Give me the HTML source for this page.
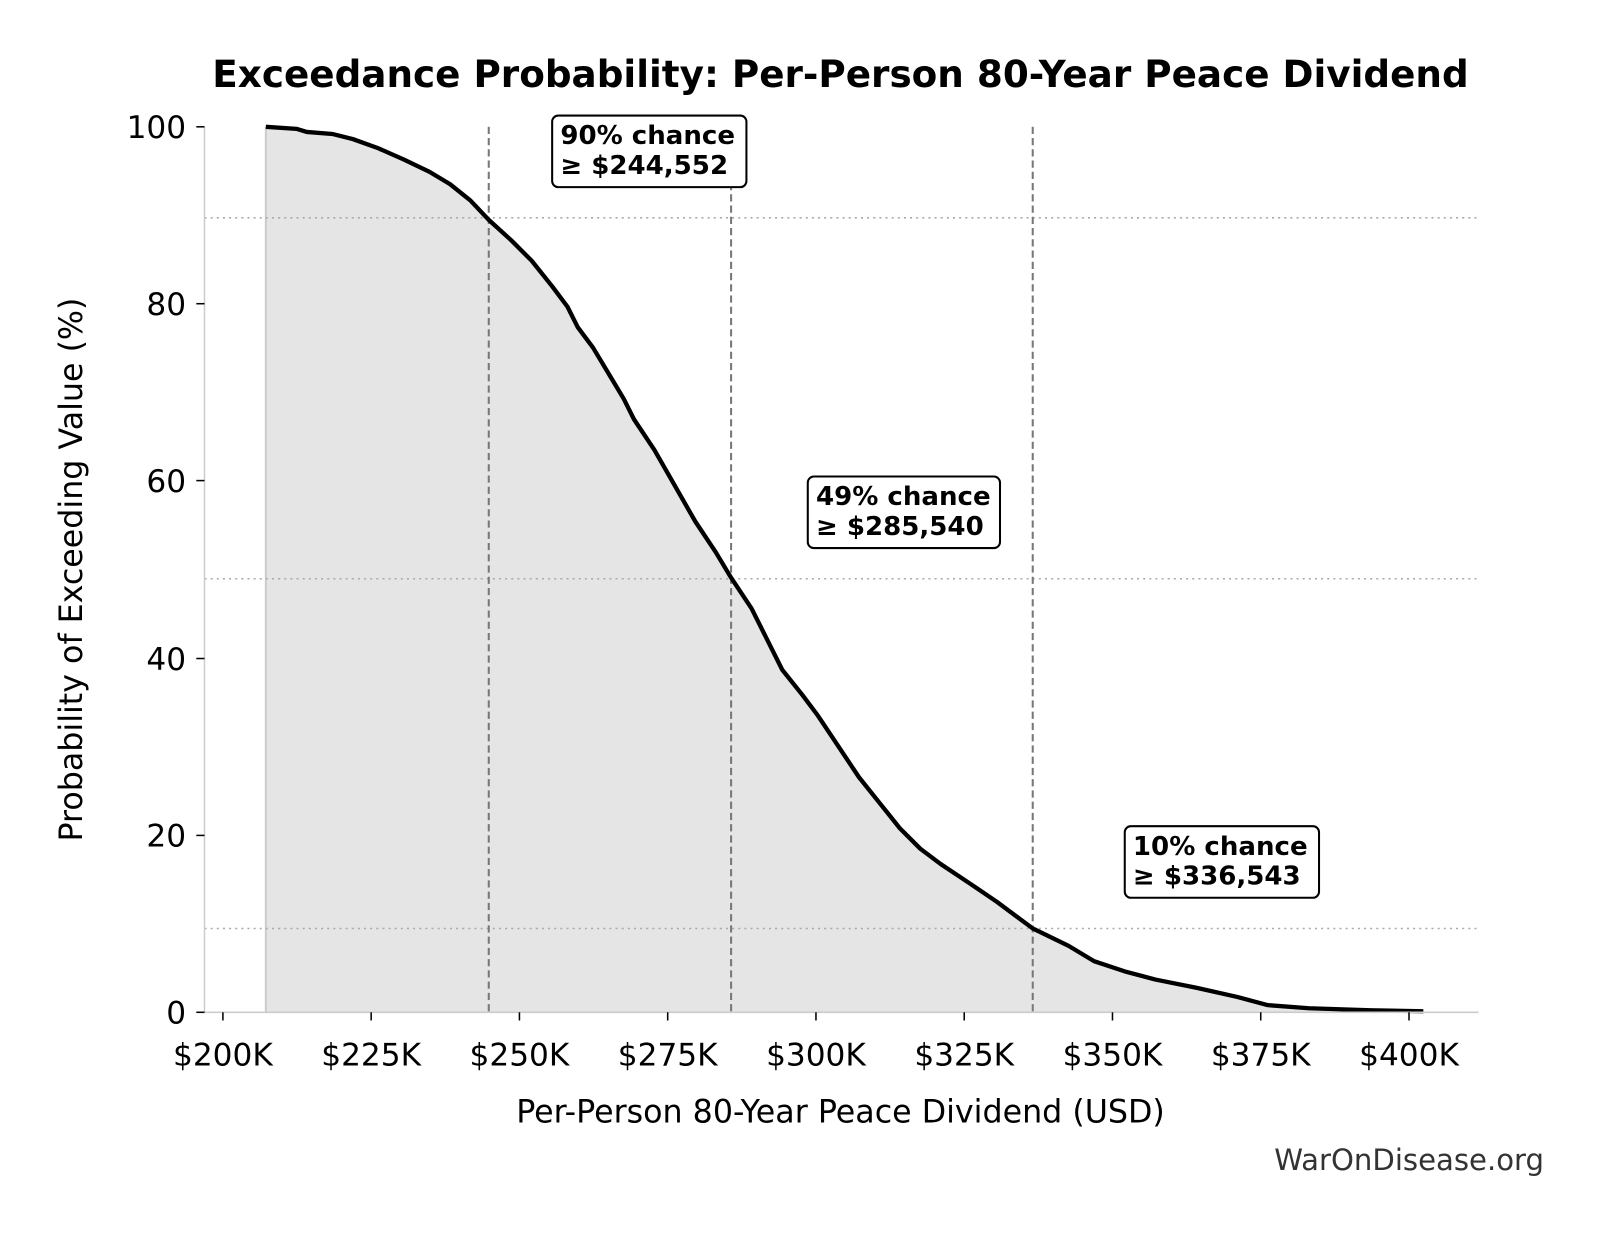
<!DOCTYPE html>
<html><head><meta charset="utf-8"><style>body{margin:0;background:#fff}</style></head><body>
<svg width="1604" height="1234" viewBox="0 0 1568.7 1206.8" xmlns="http://www.w3.org/2000/svg" font-family="'DejaVu Sans','Liberation Sans',sans-serif" style="display:block">
<rect width="1568.7" height="1206.8" fill="#fff"/>
<text x="822" y="85" text-anchor="middle" font-size="36.5" font-weight="bold">Exceedance Probability: Per-Person 80-Year Peace Dividend</text>
<path d="M260,990 L260,124 L290,126 L300,129 L325,131 L345,136 L370,145 L395,156 L420,168 L440,180 L460,196 L478,215 L500,235 L520,255 L540,280 L555,300 L565,320 L580,340 L595,365 L610,390 L620,410 L640,440 L660,475 L680,510 L700,540 L715,565 L735,595 L750,625 L765,655 L785,680 L800,700 L820,730 L840,760 L860,785 L880,810 L900,830 L920,845 L950,865 L975,882 L1010,908 L1045,925 L1070,940 L1100,950 L1130,958 L1170,966 L1210,975 L1240,983 L1280,986 L1340,988 L1392,989 L1392,990 Z" fill="#e5e5e5"/>
<line x1="260" y1="124" x2="260" y2="990" stroke="#ccc" stroke-width="2"/>
<g stroke="#aaa" stroke-width="1.5" stroke-dasharray="2,4">
<line x1="200" y1="213" x2="1446" y2="213"/><line x1="200" y1="566" x2="1446" y2="566"/><line x1="200" y1="908" x2="1446" y2="908"/></g>
<g stroke="#777" stroke-width="2" stroke-dasharray="7,4">
<line x1="478" y1="124" x2="478" y2="990"/><line x1="715" y1="124" x2="715" y2="990"/><line x1="1010" y1="124" x2="1010" y2="990"/></g>
<path d="M260,124 L290,126 L300,129 L325,131 L345,136 L370,145 L395,156 L420,168 L440,180 L460,196 L478,215 L500,235 L520,255 L540,280 L555,300 L565,320 L580,340 L595,365 L610,390 L620,410 L640,440 L660,475 L680,510 L700,540 L715,565 L735,595 L750,625 L765,655 L785,680 L800,700 L820,730 L840,760 L860,785 L880,810 L900,830 L920,845 L950,865 L975,882 L1010,908 L1045,925 L1070,940 L1100,950 L1130,958 L1170,966 L1210,975 L1240,983 L1280,986 L1340,988 L1392,989" fill="none" stroke="#000" stroke-width="4.2" stroke-linejoin="round"/>
<g stroke="#ccc" stroke-width="1.5"><line x1="200" y1="124" x2="200" y2="990"/><line x1="200" y1="990" x2="1446" y2="990"/></g>
<g stroke="#000" stroke-width="1.5">
<line x1="192" y1="124" x2="200" y2="124"/><line x1="192" y1="297" x2="200" y2="297"/><line x1="192" y1="470" x2="200" y2="470"/><line x1="192" y1="644" x2="200" y2="644"/><line x1="192" y1="817" x2="200" y2="817"/><line x1="192" y1="990" x2="200" y2="990"/>
<line x1="218" y1="990" x2="218" y2="998"/><line x1="363" y1="990" x2="363" y2="998"/><line x1="508" y1="990" x2="508" y2="998"/><line x1="653" y1="990" x2="653" y2="998"/><line x1="798" y1="990" x2="798" y2="998"/><line x1="943" y1="990" x2="943" y2="998"/><line x1="1088" y1="990" x2="1088" y2="998"/><line x1="1233" y1="990" x2="1233" y2="998"/><line x1="1378" y1="990" x2="1378" y2="998"/></g>
<g font-size="30.5" text-anchor="end">
<text x="182" y="135">100</text><text x="182" y="308">80</text><text x="182" y="481">60</text><text x="182" y="655">40</text><text x="182" y="828">20</text><text x="182" y="1001">0</text></g>
<g font-size="30.5" text-anchor="middle">
<text x="218" y="1042">$200K</text><text x="363" y="1042">$225K</text><text x="508" y="1042">$250K</text><text x="653" y="1042">$275K</text><text x="798" y="1042">$300K</text><text x="943" y="1042">$325K</text><text x="1088" y="1042">$350K</text><text x="1233" y="1042">$375K</text><text x="1378" y="1042">$400K</text>
<text x="822" y="1098" font-size="31">Per-Person 80-Year Peace Dividend (USD)</text>
<text transform="translate(80,557) rotate(-90)" font-size="31">Probability of Exceeding Value (%)</text></g>
<text x="1510" y="1144" font-size="28.5" text-anchor="end" fill="#333">WarOnDisease.org</text>
<g font-size="25.5" font-weight="bold">
<rect x="540" y="113" width="190" height="70" rx="6" fill="#fff" stroke="#000" stroke-width="2"/>
<text x="548" y="141">90% chance</text><text x="548" y="170">≥ $244,552</text>
<rect x="790" y="466" width="188" height="70" rx="6" fill="#fff" stroke="#000" stroke-width="2"/>
<text x="798" y="494">49% chance</text><text x="798" y="523">≥ $285,540</text>
<rect x="1100" y="808" width="190" height="70" rx="6" fill="#fff" stroke="#000" stroke-width="2"/>
<text x="1108" y="836">10% chance</text><text x="1108" y="865">≥ $336,543</text></g>
</svg>
</body></html>
